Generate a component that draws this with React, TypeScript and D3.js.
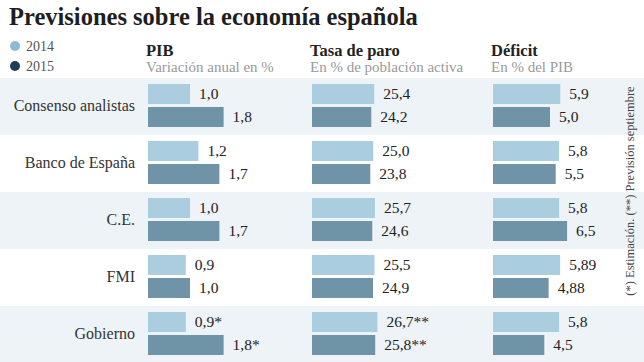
import React from 'react';
import * as d3 from 'd3';

const categories = ['Consenso analistas', 'Banco de España', 'C.E.', 'FMI', 'Gobierno'];
const years = ['2014', '2015'];

const pib2014 = [1.0, 1.2, 1.0, 0.9, 0.9];
const pib2015 = [1.8, 1.7, 1.7, 1.0, 1.8];
const paro2014 = [25.4, 25.0, 25.7, 25.5, 26.7];
const paro2015 = [24.2, 23.8, 24.6, 24.9, 25.8];
const deficit2014 = [5.9, 5.8, 5.8, 5.89, 5.8];
const deficit2015 = [5.0, 5.5, 6.5, 4.88, 4.5];

// footnote marks per row
const pibNotes = ['', '', '', '', '*'];
const paroNotes = ['', '', '', '', '**'];
const deficitNotes = ['', '', '', '', ''];

const W = 644;
const H = 362;
const SERIF = '"Liberation Serif", "DejaVu Serif", serif';
const c2014 = '#aacde0';
const c2015 = '#6f94a7';
const dot2014 = '#8bbcd6';
const dot2015 = '#1d3d58';
const bandColor = '#eef3f7';

const fmt = (v: number) =>
  (Math.round(v * 100) % 10 ? v.toFixed(2) : v.toFixed(1)).replace('.', ',');

type Panel = {
  title: string;
  sub: string;
  x0: number;
  scale: d3.ScaleLinear<number, number>;
  a: number[];
  b: number[];
  notes: string[];
};

const panels: Panel[] = [
  {
    title: 'PIB', sub: 'Variación anual en %', x0: 148,
    scale: d3.scaleLinear().domain([0, 2]).range([0, 84]),
    a: pib2014, b: pib2015, notes: pibNotes,
  },
  {
    title: 'Tasa de paro', sub: 'En % de población activa', x0: 312,
    scale: d3.scaleLinear().domain([0, 30]).range([0, 73.5]),
    a: paro2014, b: paro2015, notes: paroNotes,
  },
  {
    title: 'Déficit', sub: 'En % del PIB', x0: 493,
    scale: d3.scaleLinear().domain([0, 7]).range([0, 79.8]),
    a: deficit2014, b: deficit2015, notes: deficitNotes,
  },
];

const rowY = d3.scaleBand().domain(categories).range([78, 78 + 57 * categories.length]).padding(0);

export default function App() {
  const barH = 20;
  return (
    <div style={{ position: 'absolute', left: 0, top: 0 }}>
      <svg width={W} height={H} style={{ display: 'block', background: '#fff' }}>
        <text x={9} y={25} fontFamily={SERIF} fontWeight="bold" fontSize={24.5} fill="#1e1e1e">
          Previsiones sobre la economía española
        </text>

        {years.map((yr, i) => (
          <g key={yr}>
            <circle cx={15} cy={46 + i * 20} r={5} fill={i === 0 ? dot2014 : dot2015} />
            <text x={26} y={50.5 + i * 20} fontFamily={SERIF} fontSize={14} fill="#555">{yr}</text>
          </g>
        ))}

        {panels.map((p) => (
          <g key={p.title}>
            <text x={p.x0 - 2} y={56} fontFamily={SERIF} fontWeight="bold" fontSize={16.5} fill="#222">{p.title}</text>
            <text x={p.x0 - 2} y={72} fontFamily={SERIF} fontSize={15} fill="#9a9a9a">{p.sub}</text>
          </g>
        ))}

        {categories.map((c, i) => {
          const y = rowY(c)!;
          return (
            <g key={c}>
              {i % 2 === 0 && <rect x={0} y={y} width={W} height={rowY.bandwidth()} fill={bandColor} />}
              <text x={135} y={y + 29} textAnchor="end" dominantBaseline="middle"
                fontFamily={SERIF} fontSize={16} fill="#333">{c}</text>
              {panels.map((p) => {
                const w1 = p.scale(p.a[i]);
                const w2 = p.scale(p.b[i]);
                const y1 = y + 6;
                const y2 = y1 + barH + 3;
                return (
                  <g key={p.title}>
                    <rect x={p.x0} y={y1} width={w1} height={barH} fill={c2014} />
                    <rect x={p.x0} y={y2} width={w2} height={barH} fill={c2015} />
                    <text x={p.x0 + w1 + 9} y={y1 + barH / 2 + 1} dominantBaseline="middle"
                      fontFamily={SERIF} fontSize={15.5} fill="#222">{fmt(p.a[i]) + p.notes[i]}</text>
                    <text x={p.x0 + w2 + 9} y={y2 + barH / 2 + 1} dominantBaseline="middle"
                      fontFamily={SERIF} fontSize={15.5} fill="#222">{fmt(p.b[i]) + p.notes[i]}</text>
                  </g>
                );
              })}
            </g>
          );
        })}

        <text transform="translate(634,191) rotate(-90)" textAnchor="middle"
          fontFamily={SERIF} fontSize={12.5} fill="#444">
          (*) Estimación. (**) Previsión septiembre
        </text>
      </svg>
    </div>
  );
}
